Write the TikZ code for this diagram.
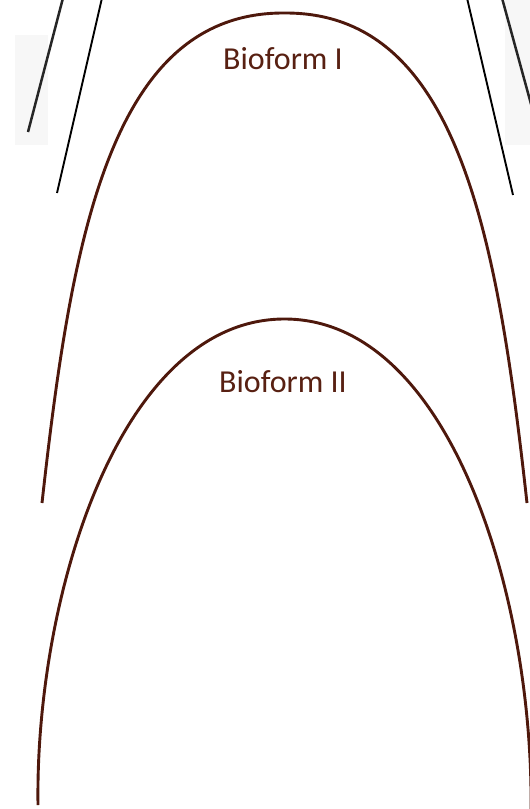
\documentclass[tikz,border=0pt]{standalone}
\usepackage{fontspec}
\setmainfont{Carlito}
\definecolor{arch}{RGB}{78,24,12}
\definecolor{label}{RGB}{88,32,18}
\begin{document}
\begin{tikzpicture}[x=1pt,y=-1pt,
  archline/.style={draw=arch,line width=2.9pt,line join=round},
  stroke/.style={draw=black,line width=1.9pt},
  lbl/.style={text=label,font=\fontsize{32}{36}\selectfont,inner sep=0pt}]
\useasboundingbox (0,0) rectangle (530,809);
\fill[white] (0,0) rectangle (530,809);
\begin{scope}
\clip (0,0) rectangle (530,809);
% faint grey smudges
\fill[black!3] (15,35) rectangle (48,145);
\fill[black!3] (505,0) rectangle (530,145);
% black strokes
\coordinate (l1a) at (63,-2);  \coordinate (l1b) at (28,132);
\coordinate (l2a) at (102,-2); \coordinate (l2b) at (57,193);
\coordinate (r1a) at (467,-2); \coordinate (r1b) at (513,195);
\coordinate (r2a) at (502,-2); \coordinate (r2b) at (534,115);
\draw[stroke,line width=2.5pt,black!85] (l1a) -- (l1b);
\draw[stroke] (l2a) -- (l2b);
\draw[stroke] (r1a) -- (r1b);
\draw[stroke,line width=2.5pt,black!85] (r2a) -- (r2b);
% Bioform I arch
\coordinate (a1l) at (42,503);
\coordinate (a1t) at (284.5,13);
\coordinate (a1r) at (527,503);
\draw[archline] (a1l) .. controls (72,232) and (112,12) .. (a1t)
                      .. controls (457,12) and (497,232) .. (a1r);
% Bioform II arch
\coordinate (a2l) at (38,805);
\coordinate (a2t) at (284.5,319);
\coordinate (a2r) at (531,812);
\draw[archline] (a2l) .. controls (35,600) and (118,319) .. (a2t)
                      .. controls (451,319) and (534,600) .. (a2r);
\end{scope}
\node[lbl] (b1) at (283,59) {Bioform I};
\node[lbl] (b2) at (283,382) {Bioform II};
\end{tikzpicture}
\end{document}
